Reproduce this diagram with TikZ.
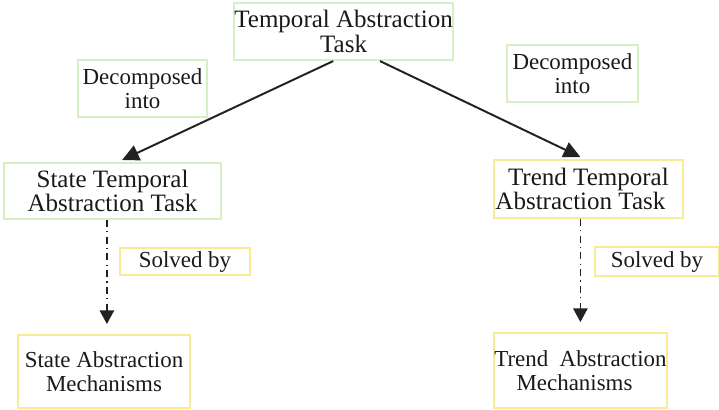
\documentclass[tikz,border=0pt]{standalone}
\usepackage{fontspec}
\setmainfont{Liberation Serif}
\usetikzlibrary{arrows.meta}

\definecolor{boxgreen}{RGB}{216,239,196}
\definecolor{boxyellow}{RGB}{249,234,150}
\definecolor{linegray}{RGB}{34,34,34}

\tikzset{
	greenbox/.style={draw=boxgreen, line width=1.4pt, align=center, inner sep=0pt, text=black!90, font=\fontsize{16.3}{17}\selectfont},
	yellowbox/.style={greenbox, draw=boxyellow},
	bigtext/.style={font=\fontsize{17.8}{17.5}\selectfont},
	decomp/.style={draw=linegray, line width=1.4pt, -{Triangle[length=0.42cm,width=0.4cm]}},
	solves/.style={draw=linegray, line width=1pt, dash pattern=on 5pt off 3pt on 0.9pt off 3pt, -{Triangle[length=0.34cm,width=0.36cm]}}
}

\begin{document}
\begin{tikzpicture}
		\useasboundingbox (0,0) rectangle (17.975,10.25);

		\node[greenbox, bigtext, minimum width=5.475cm, minimum height=1.425cm] (tat) at (8.59,9.46) {Temporal Abstraction\\Task};

		\node[greenbox, minimum width=3.225cm, minimum height=1.425cm] (decL) at (3.5625,8.04) {Decomposed\\into};
		\node[greenbox, minimum width=3.275cm, minimum height=1.425cm] (decR) at (14.31,8.41) {Decomposed\\into};

		\node[greenbox, bigtext, minimum width=5.425cm, minimum height=1.4cm] (stat) at (2.8125,5.475) {State Temporal\\Abstraction Task};
		\node[yellowbox, bigtext, minimum width=4.725cm, minimum height=1.45cm] (ttat) at (14.71,5.525) {Trend Temporal\\Abstraction Task\hspace*{0.4cm}};

		\node[yellowbox, minimum width=3.25cm, minimum height=0.675cm] (solL) at (4.625,3.71) {Solved by};
		\node[yellowbox, minimum width=3.1cm, minimum height=0.725cm] (solR) at (16.425,3.71) {Solved by};

		\node[yellowbox, minimum width=4.3cm, minimum height=1.825cm] (sam) at (2.6,0.9625) {State Abstraction\\Mechanisms};
		\node[yellowbox, minimum width=4.325cm, minimum height=1.875cm] (tam) at (14.5125,0.9875) {Trend~~Abstraction\\Mechanisms\hspace*{0.3cm}};

		\draw[decomp] ([xshift=-0.26cm]tat.south) -- ([xshift=0.24cm,yshift=0.05cm]stat.north);
		\draw[decomp] ([xshift=0.91cm]tat.south) -- ([xshift=-0.2cm,yshift=0.05cm]ttat.north);

		\draw[solves, shorten >=0.25cm] ([xshift=-0.14cm]stat.south) -- ([xshift=-0.14cm]stat.south |- sam.north);
		\draw[solves, shorten >=0.25cm] ([xshift=-0.2cm]ttat.south) -- ([xshift=-0.2cm]ttat.south |- tam.north);
	\end{tikzpicture}
\end{document}
